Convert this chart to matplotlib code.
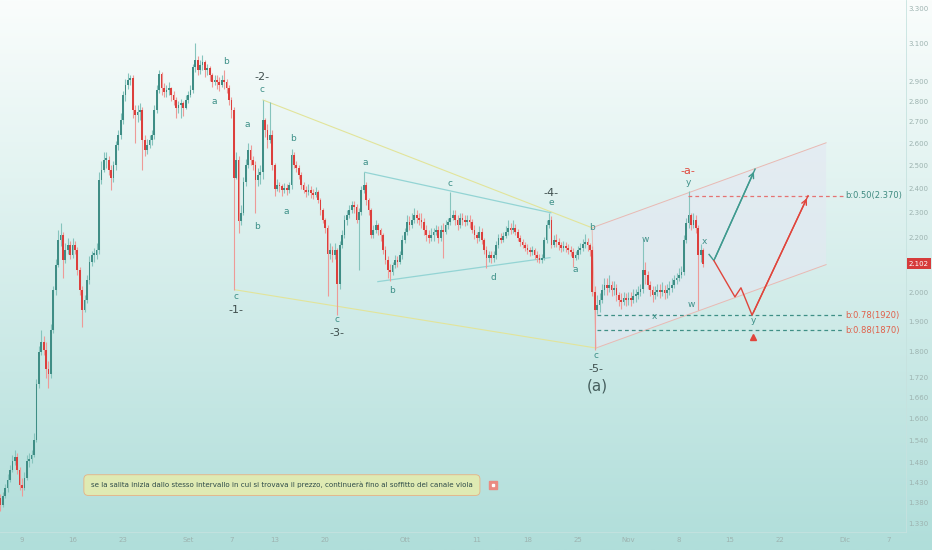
import numpy as np
import pandas as pd
import matplotlib
matplotlib.use("Agg")
import matplotlib.pyplot as plt
import matplotlib.dates as mdates
from matplotlib.ticker import FixedLocator, NullLocator, NullFormatter
from matplotlib.patches import Polygon, FancyArrowPatch

# 8h candles starting 2021-08-06 00:00 (one line per day)
START = "2021-08-06 00:00"
FIRST_OPEN = 1.390
closes = [
    1.375, 1.395, 1.415, 1.437, 1.461, 1.485, 1.495, 1.461, 1.424, 1.415, 1.442, 1.485,
    1.489, 1.500, 1.542, 1.700, 1.800, 1.830, 1.807, 1.745, 1.730, 1.872, 2.008, 2.098,
    2.193, 2.213, 2.117, 2.155, 2.174, 2.136, 2.174, 2.155, 2.080, 2.008, 1.939, 1.973,
    2.044, 2.110, 2.136, 2.136, 2.155, 2.437, 2.481, 2.525, 2.525, 2.481, 2.445, 2.503,
    2.592, 2.638, 2.709, 2.831, 2.882, 2.907, 2.917, 2.757, 2.733, 2.747, 2.757, 2.615,
    2.570, 2.592, 2.615, 2.640, 2.757, 2.856, 2.940, 2.866, 2.846, 2.856, 2.866, 2.831,
    2.806, 2.766, 2.781, 2.791, 2.766, 2.806, 2.831, 2.856, 2.974, 3.011, 2.958, 2.985,
    3.000, 2.958, 2.968, 2.932, 2.897, 2.907, 2.897, 2.882, 2.907, 2.897, 2.866, 2.806,
    2.757, 2.445, 2.525, 2.265, 2.300, 2.428, 2.503, 2.570, 2.525, 2.503, 2.437, 2.459,
    2.470, 2.709, 2.662, 2.615, 2.638, 2.500, 2.400, 2.416, 2.410, 2.395, 2.403, 2.395,
    2.416, 2.548, 2.503, 2.490, 2.459, 2.416, 2.395, 2.387, 2.395, 2.383, 2.374, 2.387,
    2.353, 2.312, 2.272, 2.240, 2.140, 2.155, 2.136, 2.155, 2.030, 2.174, 2.213, 2.272,
    2.292, 2.312, 2.332, 2.322, 2.272, 2.304, 2.395, 2.416, 2.353, 2.312, 2.213, 2.232,
    2.252, 2.232, 2.213, 2.155, 2.117, 2.080, 2.073, 2.098, 2.117, 2.110, 2.136, 2.193,
    2.224, 2.264, 2.252, 2.272, 2.292, 2.280, 2.272, 2.264, 2.232, 2.213, 2.201, 2.213,
    2.224, 2.232, 2.201, 2.232, 2.224, 2.252, 2.264, 2.280, 2.292, 2.272, 2.252, 2.280,
    2.272, 2.264, 2.272, 2.264, 2.232, 2.213, 2.201, 2.224, 2.193, 2.155, 2.125, 2.136,
    2.125, 2.136, 2.174, 2.201, 2.193, 2.209, 2.224, 2.240, 2.232, 2.240, 2.224, 2.201,
    2.185, 2.174, 2.163, 2.155, 2.147, 2.155, 2.136, 2.125, 2.117, 2.125, 2.193, 2.252,
    2.272, 2.174, 2.193, 2.185, 2.174, 2.163, 2.170, 2.163, 2.155, 2.147, 2.125, 2.136,
    2.155, 2.163, 2.178, 2.185, 2.174, 2.155, 2.000, 1.939, 1.956, 1.973, 2.008, 2.026,
    2.015, 2.026, 2.008, 2.015, 1.990, 1.973, 1.966, 1.980, 1.973, 1.980, 1.973, 1.987,
    1.990, 2.001, 2.010, 2.080, 2.062, 2.026, 2.008, 1.990, 2.001, 2.008, 2.001, 2.008,
    1.997, 2.008, 2.015, 2.026, 2.044, 2.051, 2.062, 2.073, 2.193, 2.260, 2.292, 2.252,
    2.272, 2.240, 2.136, 2.155, 2.102,
]
highs = [
    1.400, 1.405, 1.425, 1.450, 1.475, 1.500, 1.515, 1.505, 1.470, 1.440, 1.455, 1.500,
    1.505, 1.515, 1.560, 1.715, 1.820, 1.870, 1.850, 1.830, 1.770, 1.890, 2.020, 2.120,
    2.230, 2.260, 2.225, 2.180, 2.200, 2.190, 2.200, 2.190, 2.165, 2.090, 2.020, 1.990,
    2.060, 2.130, 2.150, 2.160, 2.180, 2.470, 2.520, 2.560, 2.560, 2.540, 2.500, 2.520,
    2.610, 2.660, 2.740, 2.850, 2.910, 2.945, 2.930, 2.930, 2.780, 2.780, 2.790, 2.770,
    2.640, 2.620, 2.640, 2.660, 2.780, 2.880, 2.958, 2.950, 2.890, 2.880, 2.895, 2.870,
    2.850, 2.820, 2.800, 2.810, 2.800, 2.830, 2.850, 2.880, 2.990, 3.100, 3.030, 3.010,
    3.040, 3.010, 2.990, 2.980, 2.945, 2.930, 2.930, 2.920, 2.930, 2.960, 2.910, 2.880,
    2.820, 2.770, 2.560, 2.540, 2.330, 2.450, 2.530, 2.600, 2.590, 2.540, 2.520, 2.490,
    2.500, 2.806, 2.720, 2.690, 2.795, 2.660, 2.510, 2.440, 2.430, 2.420, 2.425, 2.420,
    2.430, 2.575, 2.560, 2.520, 2.500, 2.470, 2.430, 2.410, 2.420, 2.410, 2.400, 2.405,
    2.395, 2.360, 2.320, 2.280, 2.250, 2.180, 2.170, 2.180, 2.160, 2.190, 2.230, 2.290,
    2.310, 2.330, 2.350, 2.350, 2.335, 2.320, 2.410, 2.470, 2.430, 2.360, 2.320, 2.250,
    2.270, 2.260, 2.240, 2.220, 2.170, 2.130, 2.100, 2.110, 2.135, 2.130, 2.150, 2.210,
    2.240, 2.290, 2.285, 2.300, 2.320, 2.310, 2.300, 2.300, 2.280, 2.250, 2.230, 2.240,
    2.240, 2.250, 2.245, 2.250, 2.260, 2.270, 2.280, 2.385, 2.310, 2.310, 2.290, 2.300,
    2.300, 2.290, 2.290, 2.290, 2.275, 2.250, 2.225, 2.245, 2.240, 2.200, 2.170, 2.150,
    2.150, 2.150, 2.190, 2.215, 2.220, 2.225, 2.245, 2.270, 2.260, 2.270, 2.255, 2.235,
    2.210, 2.195, 2.185, 2.175, 2.165, 2.170, 2.160, 2.150, 2.140, 2.140, 2.205, 2.270,
    2.300, 2.285, 2.210, 2.215, 2.200, 2.185, 2.190, 2.185, 2.175, 2.170, 2.160, 2.150,
    2.170, 2.180, 2.195, 2.215, 2.200, 2.180, 2.170, 2.020, 1.990, 1.995, 2.030, 2.050,
    2.050, 2.060, 2.040, 2.040, 2.030, 2.000, 1.995, 2.000, 1.995, 2.000, 2.000, 2.010,
    2.010, 2.020, 2.030, 2.190, 2.110, 2.075, 2.040, 2.020, 2.020, 2.030, 2.030, 2.035,
    2.025, 2.030, 2.040, 2.050, 2.060, 2.070, 2.085, 2.095, 2.210, 2.280, 2.390, 2.300,
    2.300, 2.290, 2.250, 2.175, 2.160,
]
lows = [
    1.360, 1.370, 1.390, 1.405, 1.430, 1.455, 1.475, 1.450, 1.410, 1.395, 1.410, 1.435,
    1.470, 1.480, 1.495, 1.535, 1.690, 1.790, 1.790, 1.720, 1.690, 1.720, 1.860, 1.990,
    2.090, 2.170, 2.050, 2.105, 2.140, 2.120, 2.125, 2.140, 2.060, 1.990, 1.880, 1.930,
    1.960, 2.030, 2.095, 2.110, 2.120, 2.140, 2.420, 2.470, 2.490, 2.460, 2.395, 2.430,
    2.480, 2.570, 2.620, 2.690, 2.800, 2.860, 2.880, 2.720, 2.600, 2.700, 2.710, 2.480,
    2.540, 2.550, 2.580, 2.590, 2.620, 2.740, 2.840, 2.830, 2.820, 2.820, 2.830, 2.800,
    2.780, 2.720, 2.740, 2.720, 2.730, 2.760, 2.790, 2.820, 2.840, 2.950, 2.930, 2.940,
    2.960, 2.920, 2.930, 2.900, 2.870, 2.880, 2.860, 2.850, 2.870, 2.860, 2.840, 2.780,
    2.720, 2.008, 2.440, 2.220, 2.250, 2.290, 2.410, 2.490, 2.500, 2.480, 2.300, 2.410,
    2.420, 2.440, 2.630, 2.580, 2.600, 2.480, 2.370, 2.390, 2.385, 2.370, 2.380, 2.375,
    2.380, 2.400, 2.490, 2.470, 2.440, 2.400, 2.380, 2.365, 2.375, 2.360, 2.355, 2.365,
    2.340, 2.290, 2.260, 2.220, 1.985, 2.120, 2.110, 2.120, 1.920, 2.010, 2.160, 2.200,
    2.250, 2.280, 2.300, 2.300, 2.260, 2.080, 2.290, 2.380, 2.330, 2.290, 2.200, 2.200,
    2.220, 2.210, 2.190, 2.140, 2.100, 2.050, 2.040, 2.060, 2.085, 2.090, 2.100, 2.120,
    2.180, 2.210, 2.230, 2.240, 2.260, 2.260, 2.250, 2.240, 2.210, 2.190, 2.180, 2.190,
    2.190, 2.210, 2.180, 2.190, 2.125, 2.215, 2.235, 2.250, 2.270, 2.250, 2.230, 2.240,
    2.250, 2.245, 2.250, 2.240, 2.220, 2.195, 2.180, 2.190, 2.175, 2.140, 2.085, 2.110,
    2.105, 2.110, 2.120, 2.160, 2.180, 2.185, 2.200, 2.210, 2.215, 2.220, 2.210, 2.190,
    2.170, 2.160, 2.150, 2.140, 2.130, 2.135, 2.120, 2.110, 2.105, 2.105, 2.115, 2.180,
    2.240, 2.160, 2.165, 2.165, 2.155, 2.145, 2.150, 2.145, 2.140, 2.130, 2.090, 2.115,
    2.120, 2.140, 2.150, 2.160, 2.150, 2.130, 1.985, 1.807, 1.925, 1.930, 1.960, 1.990,
    1.990, 2.000, 1.985, 1.990, 1.970, 1.950, 1.940, 1.955, 1.950, 1.955, 1.950, 1.960,
    1.965, 1.975, 1.985, 1.995, 2.030, 2.010, 1.985, 1.965, 1.975, 1.985, 1.980, 1.985,
    1.975, 1.980, 1.990, 2.000, 2.015, 2.030, 2.040, 2.050, 2.060, 2.180, 2.240, 2.230,
    2.240, 2.220, 1.939, 2.110, 2.090,
]
last_price = 2.102

y_ticks = [3.3, 3.1, 2.9, 2.8, 2.7, 2.6, 2.5, 2.4, 2.3, 2.2, 2.0, 1.9, 1.8,
           1.72, 1.66, 1.6, 1.54, 1.48, 1.43, 1.38, 1.33]
x_tick_dates = ["2021-08-09", "2021-08-16", "2021-08-23", "2021-09-01", "2021-09-07",
                "2021-09-13", "2021-09-20", "2021-10-01", "2021-10-11", "2021-10-18",
                "2021-10-25", "2021-11-01", "2021-11-08", "2021-11-15", "2021-11-22",
                "2021-12-01", "2021-12-07"]
x_tick_labels = ["9", "16", "23", "Set", "7", "13", "20", "Ott", "11", "18", "25",
                 "Nov", "8", "15", "22", "Dic", "7"]

# Elliott wave labels
wave_text = ["a", "b", "c", "-2-", "a", "b", "b", "a", "c", "-1-", "c", "-3-", "a", "b",
             "c", "d", "e", "-4-", "a", "b", "c", "-5-", "(a)", "w", "x", "w", "y", "-a-",
             "x", "y"]
wave_time = ["2021-09-04 14:00", "2021-09-06 06:00", "2021-09-11 06:00", "2021-09-11 06:00",
             "2021-09-09 04:00", "2021-09-15 13:00", "2021-09-10 13:00", "2021-09-14 14:00",
             "2021-09-07 15:00", "2021-09-07 15:00", "2021-09-21 15:00", "2021-09-21 15:00",
             "2021-09-25 12:00", "2021-09-29 06:00", "2021-10-07 07:00", "2021-10-13 06:00",
             "2021-10-21 06:00", "2021-10-21 06:00", "2021-10-24 14:00", "2021-10-26 23:00",
             "2021-10-27 12:00", "2021-10-27 12:00", "2021-10-27 15:00", "2021-11-03 07:00",
             "2021-11-04 16:00", "2021-11-09 16:00", "2021-11-09 06:00", "2021-11-09 06:00",
             "2021-11-11 14:00", "2021-11-18 06:00"]
wave_price = [2.801, 3.005, 2.856, 2.922, 2.685, 2.624, 2.244, 2.304, 1.983, 1.936, 1.905,
              1.859, 2.512, 2.004, 2.420, 2.051, 2.340, 2.382, 2.080, 2.240, 1.788, 1.745,
              1.695, 2.193, 1.915, 1.956, 2.424, 2.477, 2.185, 1.902]
wave_kind = ["s", "s", "s", "L", "s", "s", "s", "s", "s", "L", "s", "L", "s", "s", "s", "s",
             "s", "L", "s", "s", "s", "L", "A", "s", "s", "s", "s", "R", "s", "s"]

# drawings
yellow_top_t = ["2021-09-11 09:00", "2021-10-26 23:00"]
yellow_top_p = [2.806, 2.240]
yellow_bot_t = ["2021-09-07 12:00", "2021-10-27 12:00"]
yellow_bot_p = [2.008, 1.812]
tri_top_t = ["2021-09-25 12:00", "2021-10-21 06:00"]
tri_top_p = [2.470, 2.300]
tri_bot_t = ["2021-09-27 07:00", "2021-10-21 03:00"]
tri_bot_p = [2.037, 2.125]
chan_top_t = ["2021-10-26 23:00", "2021-11-28 09:00"]
chan_top_p = [2.240, 2.602]
chan_bot_t = ["2021-10-27 12:00", "2021-11-28 09:00"]
chan_bot_p = [1.812, 2.099]
teal_path_t = ["2021-11-12 04:00", "2021-11-12 20:00", "2021-11-18 13:00"]
teal_path_p = [2.137, 2.114, 2.484]
red_path_t = ["2021-11-12 20:00", "2021-11-15 18:00", "2021-11-16 14:00",
              "2021-11-18 03:00", "2021-11-25 21:00"]
red_path_p = [2.114, 1.983, 2.015, 1.920, 2.370]
level_price = [2.370, 1.920, 1.870]
level_start = ["2021-11-09 06:00", "2021-10-27 15:00", "2021-10-27 15:00"]
level_end = "2021-11-30 17:00"
level_label_time = "2021-12-01 00:00"
level_text = ["b:0.50(2.370)", "b:0.78(1920)", "b:0.88(1870)"]

note_text = ("se la salita inizia dallo stesso intervallo in cui si trovava il prezzo, "
             "continuerà fino al soffitto del canale viola")
note_time = "2021-09-14 00:00"
note_price = 1.423
note_icon_time = "2021-10-13 06:00"

UP, UP_WICK = "#3f8d85", "#86c4bd"
DOWN, DOWN_WICK = "#dc3f3c", "#ee9a97"
TEAL_TXT = "#3d9088"
DARK_TXT = "#3f4e4d"
RED_TXT = "#e0493e"


def t(s):
    return mdates.date2num(pd.Timestamp(s))


def ts(lst):
    return [t(s) for s in lst]


fig = plt.figure(figsize=(9.32, 5.5), dpi=100)

# background gradient
bg = fig.add_axes([0, 0, 1, 1], zorder=0)
g = np.linspace(0, 1, 256)[:, None, None]
top = np.array([250, 253, 252]) / 255
bottom = np.array([176, 222, 218]) / 255
bg.imshow(top + (bottom - top) * g, aspect="auto", extent=[0, 1, 0, 1], origin="upper")
bg.axis("off")

ax = fig.add_axes([0, 18 / 550, 906 / 932, 532 / 550], zorder=1)
ax.patch.set_alpha(0)
ax.set_yscale("log")

# candles
times = pd.date_range(START, periods=len(closes), freq="8h")
x = mdates.date2num(times)
c = np.array(closes)
o = np.r_[FIRST_OPEN, c[:-1]]
h = np.maximum(np.array(highs), np.maximum(o, c))
l = np.minimum(np.array(lows), np.minimum(o, c))
up = c >= o
blo = np.minimum(o, c)
bhi = np.maximum(np.maximum(o, c), blo * 1.003)

ax.vlines(x[up], l[up], h[up], color=UP_WICK, lw=0.8, zorder=3)
ax.vlines(x[~up], l[~up], h[~up], color=DOWN_WICK, lw=0.8, zorder=3)
ax.bar(x[up], bhi[up] - blo[up], bottom=blo[up], width=0.24, color=UP, lw=0, zorder=4)
ax.bar(x[~up], bhi[~up] - blo[~up], bottom=blo[~up], width=0.24, color=DOWN, lw=0, zorder=4)

# channel
poly = Polygon([(t(chan_top_t[0]), chan_top_p[0]), (t(chan_top_t[1]), chan_top_p[1]),
                (t(chan_bot_t[1]), chan_bot_p[1]), (t(chan_bot_t[0]), chan_bot_p[0])],
               closed=True, facecolor="#e3e8f2", alpha=0.65, edgecolor="none", zorder=1)
ax.add_patch(poly)
ax.plot(ts(chan_top_t), chan_top_p, color="#e9b9b3", lw=0.7, zorder=2)
ax.plot(ts(chan_bot_t), chan_bot_p, color="#e9b9b3", lw=0.7, zorder=2)
ax.plot([t(chan_top_t[0]), t(chan_bot_t[0])], [chan_top_p[0], chan_bot_p[0]],
        color="#e9b9b3", lw=0.7, zorder=2)

# trend lines
ax.plot(ts(yellow_top_t), yellow_top_p, color="#e2e49a", lw=0.8, zorder=2)
ax.plot(ts(yellow_bot_t), yellow_bot_p, color="#e2e49a", lw=0.8, zorder=2)
ax.plot(ts(tri_top_t), tri_top_p, color="#93d4d4", lw=0.9, zorder=2)
ax.plot(ts(tri_bot_t), tri_bot_p, color="#93d4d4", lw=0.9, zorder=2)

# levels
level_line_col = ["#e57373", "#3f8f86", "#3f8f86"]
level_txt_col = ["#3e8a80", "#e0604a", "#e0604a"]
for p, s, lc, tc, txt in zip(level_price, level_start, level_line_col, level_txt_col, level_text):
    ax.plot([t(s), t(level_end)], [p, p], color=lc, lw=0.9, dashes=(3, 2.5), zorder=5)
    ax.text(t(level_label_time), p, txt, color=tc, fontsize=6, va="center", ha="left", zorder=6)

# projection paths
ax.plot(ts(teal_path_t), teal_path_p, color="#3f9a8f", lw=1.0, zorder=6)
ax.add_patch(FancyArrowPatch((t(teal_path_t[-2]), teal_path_p[-2]), (t(teal_path_t[-1]), teal_path_p[-1]),
                             arrowstyle="->", mutation_scale=9, color="#3f9a8f", lw=1.0, zorder=6))
ax.plot(ts(red_path_t), red_path_p, color="#e0453c", lw=1.0, zorder=6)
ax.add_patch(FancyArrowPatch((t(red_path_t[-2]), red_path_p[-2]), (t(red_path_t[-1]), red_path_p[-1]),
                             arrowstyle="->", mutation_scale=9, color="#e0453c", lw=1.0, zorder=6))

# wave labels
styles = {"s": (6.5, TEAL_TXT), "L": (8, DARK_TXT), "A": (11, "#465f5e"), "R": (8, RED_TXT)}
for txt, tm, p, k in zip(wave_text, wave_time, wave_price, wave_kind):
    fs, col = styles[k]
    ax.text(t(tm), p, txt, fontsize=fs, color=col, ha="center", va="center", zorder=7)

# warning marker under target y
ax.plot(t("2021-11-18 06:00"), 1.848, marker="^", ms=5, color="#e0453c", zorder=7)

# note box
ax.text(t(note_time), note_price, note_text, fontsize=5.1, color="#2d4a48", ha="center",
        va="center", zorder=8,
        bbox=dict(boxstyle="round,pad=1.0,rounding_size=0.6", fc="#dfeab3", ec="#e7b183", lw=0.6))
ax.plot(t(note_icon_time), note_price, marker="s", ms=6, color="#ea8b82", zorder=8)
ax.plot(t(note_icon_time), note_price, marker="s", ms=2, color="#ffffff", zorder=9)

# axes
ax.set_xlim(t("2021-08-05 22:52"), t("2021-12-09 10:40"))
ax.set_ylim(1.310, 3.347)
ax.yaxis.tick_right()
ax.yaxis.set_major_locator(FixedLocator(y_ticks))
ax.yaxis.set_minor_locator(NullLocator())
ax.yaxis.set_minor_formatter(NullFormatter())
ax.set_yticklabels([f"{v:.3f}" for v in y_ticks])
ax.set_xticks(ts(x_tick_dates))
ax.set_xticklabels(x_tick_labels)
ax.tick_params(axis="y", length=0, pad=1.5, labelsize=5, labelcolor="#9db3b0")
ax.tick_params(axis="x", length=0, pad=3.5, labelsize=5, labelcolor="#9db3b0")
for side in ("top", "left"):
    ax.spines[side].set_visible(False)
for side in ("bottom", "right"):
    ax.spines[side].set_color("#c6e2df")
    ax.spines[side].set_linewidth(0.6)

# last price tag
ax.text(1.0143, last_price, f"{last_price:.3f}", transform=ax.get_yaxis_transform(),
        fontsize=5, color="white", ha="center", va="center", zorder=10, clip_on=False,
        bbox=dict(boxstyle="square,pad=0.35", fc="#d63b3b", ec="none"))

fig.savefig("out.png", dpi=100)
